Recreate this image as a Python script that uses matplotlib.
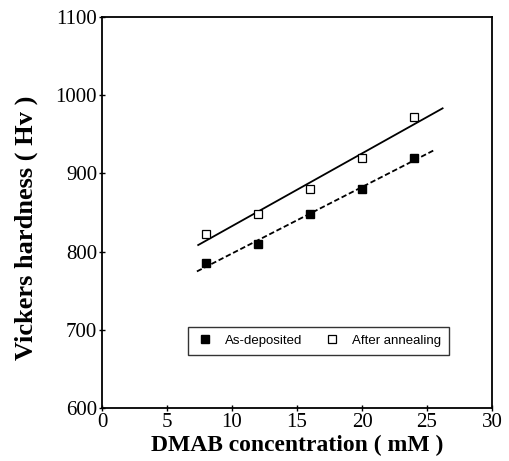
import numpy as np
import matplotlib
matplotlib.use("Agg")
import matplotlib.pyplot as plt

# DMAB concentration (mM)
conc = [8, 12, 16, 20, 24]
# Vickers hardness (Hv)
as_deposited = [785, 810, 848, 880, 920]
after_annealing = [822, 848, 880, 920, 972]

plt.rcParams['font.family'] = ['Liberation Serif', 'DejaVu Serif']

fig = plt.figure(figsize=(5.09, 4.61), dpi=100)
ax = fig.add_axes([0.2004, 0.115, 0.7662, 0.848])

# linear fits
x_ann = np.array([7.4, 26.2])
p = np.polyfit(conc, after_annealing, 1)
ax.plot(x_ann, np.polyval(p, x_ann), color='black', lw=1.3)
x_dep = np.array([7.3, 25.6])
p = np.polyfit(conc, as_deposited, 1)
ax.plot(x_dep, np.polyval(p, x_dep), color='black', lw=1.3, ls=(0, (3, 1.5)))

ax.plot(conc, as_deposited, 's', color='black', ms=6.2, label='As-deposited')
ax.plot(conc, after_annealing, 's', mfc='white', mec='black', mew=0.9, ms=6.2,
        label='After annealing')

ax.set_xlim(0, 30)
ax.set_ylim(600, 1100)
ax.set_xticks(range(0, 31, 5))
ax.set_yticks(range(600, 1101, 100))
ax.tick_params(direction='inout', length=5, width=1, labelsize=15, pad=1)
for s in ax.spines.values():
    s.set_linewidth(1.3)

ax.set_xlabel('DMAB concentration ( mM )', fontsize=17, fontweight='bold')
ax.xaxis.set_label_coords(0.5, -0.068)
ax.set_ylabel('Vickers hardness ( Hv )', fontsize=19, fontweight='bold')
ax.yaxis.set_label_coords(-0.163, 0.46)

leg = ax.legend(loc='upper left', bbox_to_anchor=(0.22, 0.208),
                ncol=2, frameon=True, fancybox=False, edgecolor='black',
                prop={'family': 'Liberation Sans', 'size': 9.5},
                handletextpad=0.8, borderpad=0.6, columnspacing=1.6, handlelength=1.4,
                borderaxespad=0, markerscale=0.9)
leg.get_frame().set_linewidth(1.0)

fig.savefig('out.png', dpi=100)
